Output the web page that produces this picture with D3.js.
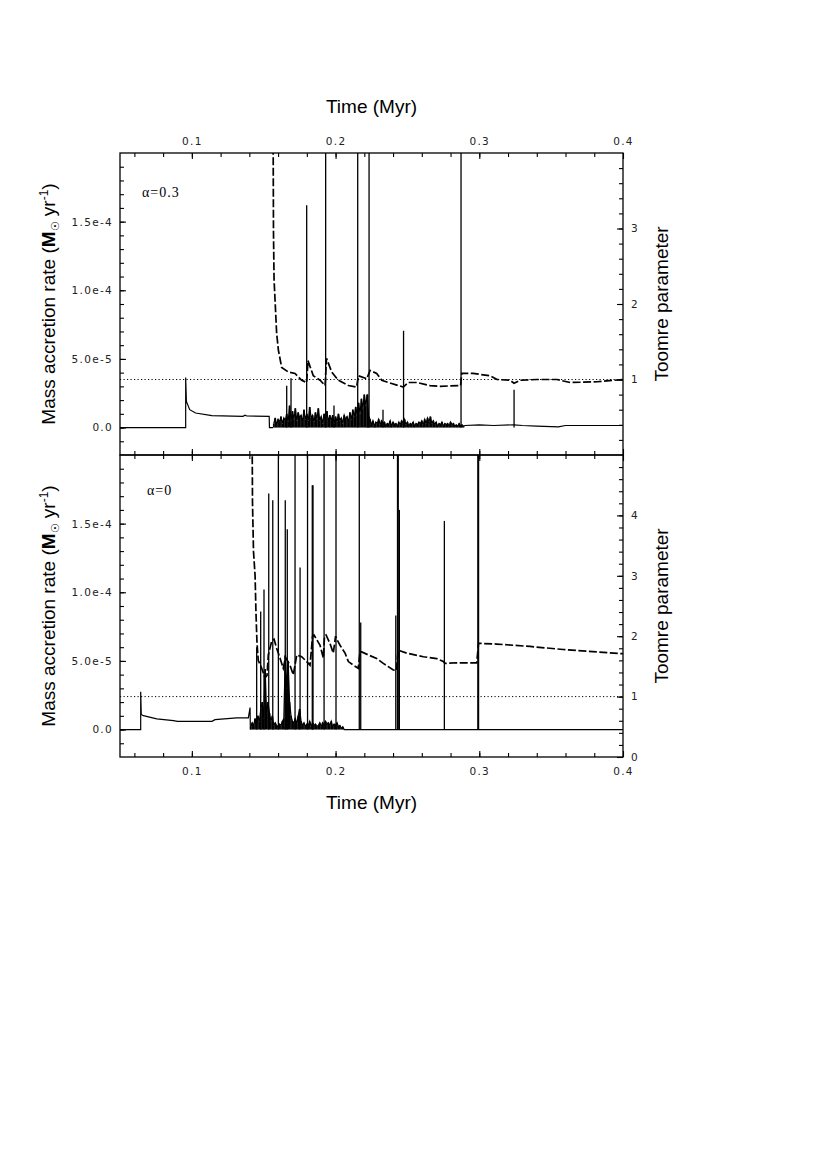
<!DOCTYPE html>
<html>
<head>
<meta charset="utf-8">
<script src="https://cdn.jsdelivr.net/npm/d3@7"></script>
<style>
  body { margin: 0; background: #fff; }
</style>
</head>
<body>
<div id="chart"></div>
<script>
// ---- data ----
const timeTicks = [0.1, 0.2, 0.3, 0.4];
const rateTicks = [0, 5e-5, 1e-4, 1.5e-4];
const rateTickLabels = ["0.0", "5.0e-5", "1.0e-4", "1.5e-4"];
const toomreTicksTop = [1, 2, 3];
const toomreTicksBottom = [0, 1, 2, 3, 4];
const toomreCritical = 1;

// alpha = 0.3 : accretion rate (Msun/yr), before the burst phase
const rateTop = [
  [0.05, 0], [0.0957, 0], [0.0957, 3.64e-5], [0.0962, 1.9e-5], [0.0985, 1.3e-5],
  [0.1026, 1.06e-5], [0.1139, 0.87e-5], [0.1356, 0.82e-5], [0.137, 0.9e-5],
  [0.1382, 0.84e-5], [0.1538, 0.82e-5], [0.154, 0], [0.1565, 0]
];
// flickering accretion, one value per 0.001 Myr from noiseTopStart (units 1e-5)
const noiseTopStart = 0.157;
const noiseTop = [
  0.3, 0.7, 0.2, 0.6, 0.4, 0.8, 0.3, 0.7, 0.5,
  1.0, 0.4, 1.6, 0.5, 1.2, 0.6, 1.4, 0.5, 1.1, 0.7,
  0.9, 0.4, 1.3, 0.6, 1.0, 0.5, 1.5, 0.7, 0.9, 0.4, 1.1, 0.6, 1.4, 0.5, 0.8, 0.3, 1.0, 0.6, 1.2, 0.4, 0.9,
  0.5, 0.9, 0.3, 0.8, 0.4, 1.0, 0.5, 0.7, 0.3, 0.9, 0.6, 0.8, 0.4, 1.1, 0.6, 1.3, 0.8, 1.5,
  0.9, 1.8, 1.0, 2.1, 1.4, 2.4, 1.6, 2.4, 0.8, 0.6,
  0.2, 0.5, 0.1, 0.4, 0.3, 0.6, 0.2, 0.5, 0.3, 0.4,
  0.1, 0.3, 0.2, 0.5, 0.1, 0.4, 0.2, 0.3, 0.1, 0.4,
  0.2, 0.5, 0.3, 0.6, 0.2, 0.4, 0.1, 0.3, 0.2, 0.4,
  0.1, 0.3, 0.2, 0.4, 0.3, 0.5, 0.2, 0.6, 0.3, 0.7,
  0.4, 0.8, 0.3, 0.5, 0.2, 0.4, 0.1, 0.3, 0.2, 0.4,
  0.1, 0.3, 0.2, 0.3, 0.1, 0.4, 0.2, 0.3, 0.1, 0.2,
  0.1, 0.3, 0.1, 0.2, 0.1
];
const tailTop = [
  [0.289, 0.1e-5], [0.29, 0.15e-5], [0.30, 0.2e-5], [0.31, 0.15e-5], [0.324, 0.2e-5],
  [0.33, 0.15e-5], [0.34, 0.1e-5], [0.355, 0.05e-5], [0.36, 0.15e-5], [0.4, 0.15e-5]
];
const spikesTop = [
  [0.166, 3.04e-5], [0.169, 3.6e-5], [0.1799, 1.62e-4], [0.1931, 3e-4], [0.1989, 1.6e-5],
  [0.2154, 3e-4], [0.2224, 2.4e-5], [0.2233, 3e-4], [0.233, 1.3e-5], [0.2473, 7.05e-5],
  [0.2873, 3e-4], [0.3242, 2.75e-5]
];
const toomreTop = [
  [0.1565, 4.5], [0.1568, 2.95], [0.1572, 2.32], [0.1579, 2.05], [0.159, 1.61], [0.1602, 1.39],
  [0.1625, 1.16], [0.1671, 1.10], [0.1718, 1.08], [0.1764, 0.99], [0.1799, 0.96], [0.1808, 1.25],
  [0.1845, 1.05], [0.1892, 0.99], [0.1927, 0.92], [0.1937, 1.28], [0.1973, 1.10], [0.2019, 0.99],
  [0.2089, 0.92], [0.2147, 0.90], [0.2158, 1.05], [0.2217, 1.01], [0.224, 1.12], [0.2286, 1.08],
  [0.2321, 0.99], [0.2367, 0.96], [0.2437, 0.92], [0.2471, 0.90], [0.2506, 0.96], [0.2567, 0.96],
  [0.2657, 0.92], [0.2727, 0.91], [0.287, 0.92], [0.2878, 1.08], [0.2957, 1.08], [0.3075, 1.05],
  [0.3124, 1.0], [0.3214, 0.99], [0.3242, 0.95], [0.3284, 0.99], [0.3402, 1.0], [0.3541, 1.0],
  [0.3632, 0.96], [0.3819, 0.97], [0.4, 1.0]
];

// alpha = 0 panel
const rateBottom = [
  [0.05, 0], [0.0644, 0], [0.0644, 2.75e-5], [0.0648, 1.1e-5], [0.0663, 1.01e-5],
  [0.0756, 0.78e-5], [0.0872, 0.65e-5], [0.09, 0.6e-5], [0.114, 0.6e-5], [0.1161, 0.72e-5],
  [0.1312, 0.85e-5], [0.1393, 0.85e-5], [0.1405, 1.6e-5], [0.1407, 0]
];
const noiseBottomStart = 0.141;
const noiseBottom = [
  0.2, 0.5, 0.3, 0.8, 0.4, 1.0, 0.6,
  1.5, 2.0, 0.8, 4.4, 1.2, 2.0,
  1.2, 0.6, 1.0, 0.3, 0.5,
  0.3, 0.2, 0.4, 0.3, 0.6, 0.8,
  5.4, 3.0, 5.0, 2.0, 1.0, 0.6,
  0.5, 0.8, 0.4, 1.0, 1.5, 0.6,
  0.3, 0.5, 0.2, 0.4, 0.3, 0.6, 0.2, 0.5, 0.3, 0.4, 0.2, 0.3, 0.5, 0.2,
  0.5, 0.3, 0.6, 0.4, 0.5, 0.3, 0.6, 0.2, 0.4, 0.3, 0.5, 0.2, 0.3, 0.1, 0.2
];
const tailBottom = [[0.206, 0], [0.4, 0]];
const spikesBottom = [
  [0.1451, 6e-5], [0.1479, 8.6e-5], [0.1502, 1.02e-4], [0.1535, 1.72e-4], [0.1563, 1.67e-4],
  [0.1602, 3e-4], [0.165, 1.67e-4], [0.1664, 1.46e-4], [0.1718, 3e-4], [0.1753, 1.18e-4],
  [0.1805, 3e-4], [0.1838, 1.78e-4], [0.1843, 1.78e-4], [0.192, 3e-4], [0.2003, 3e-4],
  [0.2165, 3e-4], [0.2175, 7.8e-5], [0.2419, 8.3e-5], [0.2431, 3e-4], [0.2436, 3e-4],
  [0.2444, 1.6e-4], [0.2757, 1.52e-4], [0.299, 3e-4], [0.2995, 3e-4]
];
const toomreBottom = [
  [0.1419, 5.5], [0.1422, 4.2], [0.1429, 3.4], [0.144, 3.0], [0.1446, 2.4], [0.1453, 1.9],
  [0.1462, 1.6], [0.1486, 1.47], [0.1509, 1.31], [0.1523, 1.35], [0.1532, 1.69], [0.1556, 1.92],
  [0.1572, 1.95], [0.159, 1.8], [0.1613, 1.64], [0.1636, 1.47], [0.1652, 1.65], [0.1683, 1.52],
  [0.1706, 1.36], [0.173, 1.69], [0.1764, 1.66], [0.1799, 1.58], [0.1822, 1.52], [0.184, 2.0],
  [0.185, 2.02], [0.1892, 1.85], [0.1915, 1.64], [0.1923, 2.0], [0.1934, 2.02], [0.1961, 1.88],
  [0.1984, 1.72], [0.2, 2.0], [0.2008, 1.95], [0.2031, 1.85], [0.2066, 1.72], [0.2089, 1.58],
  [0.2124, 1.52], [0.2158, 1.47], [0.217, 1.74], [0.2182, 1.74], [0.2228, 1.69], [0.2286, 1.63],
  [0.2332, 1.55], [0.2402, 1.44], [0.2424, 1.43], [0.2435, 1.77], [0.2495, 1.72], [0.2611, 1.66],
  [0.2704, 1.63], [0.275, 1.58], [0.2762, 1.55], [0.2843, 1.56], [0.2982, 1.56], [0.2995, 1.88],
  [0.3017, 1.88], [0.3121, 1.87], [0.3353, 1.83], [0.3583, 1.78], [0.3817, 1.74], [0.4, 1.71]
];

// ---- layout ----
const width = 830;
const height = 1175;
const plotLeft = 120;
const plotRight = 623;
const tickFont = "'DejaVu Sans', sans-serif";
const titleFont = "'Liberation Sans', Arial, Helvetica, sans-serif";

const svg = d3
  .select("#chart")
  .append("svg")
  .attr("width", width)
  .attr("height", height);

const xScale = d3.scaleLinear().domain([0.05, 0.4]).range([plotLeft, plotRight]);
const minorTime = d3.range(0.06, 0.3999, 0.02);
const minorRate = d3.range(-1e-5, 1.95e-4, 1e-5);

const panels = [
  {
    id: "top", top: 153, bottom: 455, qMax: 4, qTicks: toomreTicksTop, label: "\u03b1=0.3",
    labelPos: [142, 197], rate: rateTop, noise: noiseTop, noiseStart: noiseTopStart,
    tail: tailTop, spikes: spikesTop, toomre: toomreTop
  },
  {
    id: "bottom", top: 455, bottom: 757, qMax: 5, qTicks: toomreTicksBottom, label: "\u03b1=0",
    labelPos: [147, 495], rate: rateBottom, noise: noiseBottom, noiseStart: noiseBottomStart,
    tail: tailBottom, spikes: spikesBottom, toomre: toomreBottom
  }
];

const styleAxis = (g) => {
  g.select(".domain").remove();
  g.attr("font-family", tickFont).attr("font-size", 10.5);
  g.selectAll("line").attr("stroke", "#000").attr("stroke-width", 1.1);
  g.selectAll("text").attr("fill", "#222").style("letter-spacing", "1.3px");
};

panels.forEach((p, pi) => {
  const yRate = d3.scaleLinear().domain([-2e-5, 2e-4]).range([p.bottom, p.top]);
  const yQ = d3.scaleLinear().domain([0, p.qMax]).range([p.bottom, p.top]);
  const minorQ = d3.range(0.2, p.qMax - 0.01, 0.2);

  svg.append("clipPath")
    .attr("id", `clip-${p.id}`)
    .append("rect")
    .attr("x", plotLeft)
    .attr("y", p.top)
    .attr("width", plotRight - plotLeft)
    .attr("height", p.bottom - p.top);

  const plot = svg.append("g").attr("clip-path", `url(#clip-${p.id})`);

  // dotted Q = 1 line
  plot.append("line")
    .attr("x1", plotLeft)
    .attr("x2", plotRight)
    .attr("y1", yQ(toomreCritical))
    .attr("y2", yQ(toomreCritical))
    .attr("stroke", "#000")
    .attr("stroke-width", 1)
    .attr("stroke-dasharray", "1.2,2.3");

  const rateLine = d3.line().x((d) => xScale(d[0])).y((d) => yRate(d[1]));
  const qLine = d3.line().x((d) => xScale(d[0])).y((d) => yQ(d[1]));

  // quiescent part of accretion rate
  plot.append("path")
    .attr("d", rateLine(p.rate))
    .attr("fill", "none")
    .attr("stroke", "#000")
    .attr("stroke-width", 1.2);

  // flickering accretion
  const noisePts = p.noise.map((v, i) => [p.noiseStart + i * 0.001, v * 1e-5]);
  plot.selectAll(".noise-bar")
    .data(noisePts)
    .join("line")
    .attr("class", "noise-bar")
    .attr("x1", (d) => xScale(d[0]))
    .attr("x2", (d) => xScale(d[0]))
    .attr("y1", yRate(0))
    .attr("y2", (d) => yRate(d[1]))
    .attr("stroke", "#000")
    .attr("stroke-width", 1.7);
  plot.append("path")
    .attr("d", rateLine(noisePts.concat(p.tail)))
    .attr("fill", "none")
    .attr("stroke", "#000")
    .attr("stroke-width", 1.2);

  // accretion bursts
  plot.selectAll(".spike")
    .data(p.spikes)
    .join("line")
    .attr("class", "spike")
    .attr("x1", (d) => xScale(d[0]))
    .attr("x2", (d) => xScale(d[0]))
    .attr("y1", yRate(0))
    .attr("y2", (d) => yRate(d[1]))
    .attr("stroke", "#000")
    .attr("stroke-width", 1.3);

  // Toomre parameter (dashed)
  plot.append("path")
    .attr("d", qLine(p.toomre))
    .attr("fill", "none")
    .attr("stroke", "#000")
    .attr("stroke-width", 1.7)
    .attr("stroke-dasharray", "8,2.5");

  // frame
  svg.append("rect")
    .attr("x", plotLeft)
    .attr("y", p.top)
    .attr("width", plotRight - plotLeft)
    .attr("height", p.bottom - p.top)
    .attr("fill", "none")
    .attr("stroke", "#000")
    .attr("stroke-width", 1.3);

  // left axis
  svg.append("g")
    .attr("transform", `translate(${plotLeft},0)`)
    .call(d3.axisLeft(yRate).tickValues(minorRate).tickFormat("").tickSize(-4))
    .call(styleAxis);
  svg.append("g")
    .attr("transform", `translate(${plotLeft},0)`)
    .call(d3.axisLeft(yRate).tickValues(rateTicks)
      .tickFormat((d, i) => rateTickLabels[i]).tickSize(-6).tickPadding(7))
    .call(styleAxis);

  // right axis
  svg.append("g")
    .attr("transform", `translate(${plotRight},0)`)
    .call(d3.axisRight(yQ).tickValues(minorQ).tickFormat("").tickSize(-4))
    .call(styleAxis);
  svg.append("g")
    .attr("transform", `translate(${plotRight},0)`)
    .call(d3.axisRight(yQ).tickValues(p.qTicks).tickFormat(d3.format("d")).tickSize(-6).tickPadding(8))
    .call(styleAxis);

  // top and bottom time axes of this panel
  const showTop = pi === 0;
  const showBottom = pi === 1;
  svg.append("g")
    .attr("transform", `translate(0,${p.top})`)
    .call(d3.axisTop(xScale).tickValues(minorTime).tickFormat("").tickSize(-4))
    .call(styleAxis);
  svg.append("g")
    .attr("transform", `translate(0,${p.top})`)
    .call(d3.axisTop(xScale).tickValues(timeTicks)
      .tickFormat(showTop ? d3.format(".1f") : "").tickSize(-6).tickPadding(8))
    .call(styleAxis);
  svg.append("g")
    .attr("transform", `translate(0,${p.bottom})`)
    .call(d3.axisBottom(xScale).tickValues(minorTime).tickFormat("").tickSize(-4))
    .call(styleAxis);
  svg.append("g")
    .attr("transform", `translate(0,${p.bottom})`)
    .call(d3.axisBottom(xScale).tickValues(timeTicks)
      .tickFormat(showBottom ? d3.format(".1f") : "").tickSize(-6).tickPadding(11))
    .call(styleAxis);

  // panel label
  svg.append("text")
    .attr("x", p.labelPos[0])
    .attr("y", p.labelPos[1])
    .attr("font-family", "'Liberation Serif', 'Times New Roman', serif")
    .attr("font-size", 14)
    .style("letter-spacing", "1px")
    .text(p.label);

  // y-axis titles
  const mid = (p.top + p.bottom) / 2;
  const leftTitle = svg.append("text")
    .attr("transform", `translate(55,${mid}) rotate(-90)`)
    .attr("text-anchor", "middle")
    .attr("font-family", titleFont)
    .attr("font-size", 19);
  leftTitle.append("tspan").text("Mass accretion rate (");
  leftTitle.append("tspan").attr("font-weight", "bold").text("M");
  leftTitle.append("tspan").attr("font-size", 11).attr("dy", 4).text("\u2609");
  leftTitle.append("tspan").attr("dy", -4).text(" yr");
  leftTitle.append("tspan").attr("font-size", 12).attr("dy", -7).text("-1");
  leftTitle.append("tspan").attr("dy", 7).text(")");

  svg.append("text")
    .attr("transform", `translate(668,${mid}) rotate(-90)`)
    .attr("text-anchor", "middle")
    .attr("font-family", titleFont)
    .attr("font-size", 19)
    .text("Toomre parameter");
});

// time axis titles
svg.append("text")
  .attr("x", (plotLeft + plotRight) / 2)
  .attr("y", 113)
  .attr("text-anchor", "middle")
  .attr("font-family", titleFont)
  .attr("font-size", 19)
  .text("Time (Myr)");
svg.append("text")
  .attr("x", (plotLeft + plotRight) / 2)
  .attr("y", 809)
  .attr("text-anchor", "middle")
  .attr("font-family", titleFont)
  .attr("font-size", 19)
  .text("Time (Myr)");
</script>
</body>
</html>
